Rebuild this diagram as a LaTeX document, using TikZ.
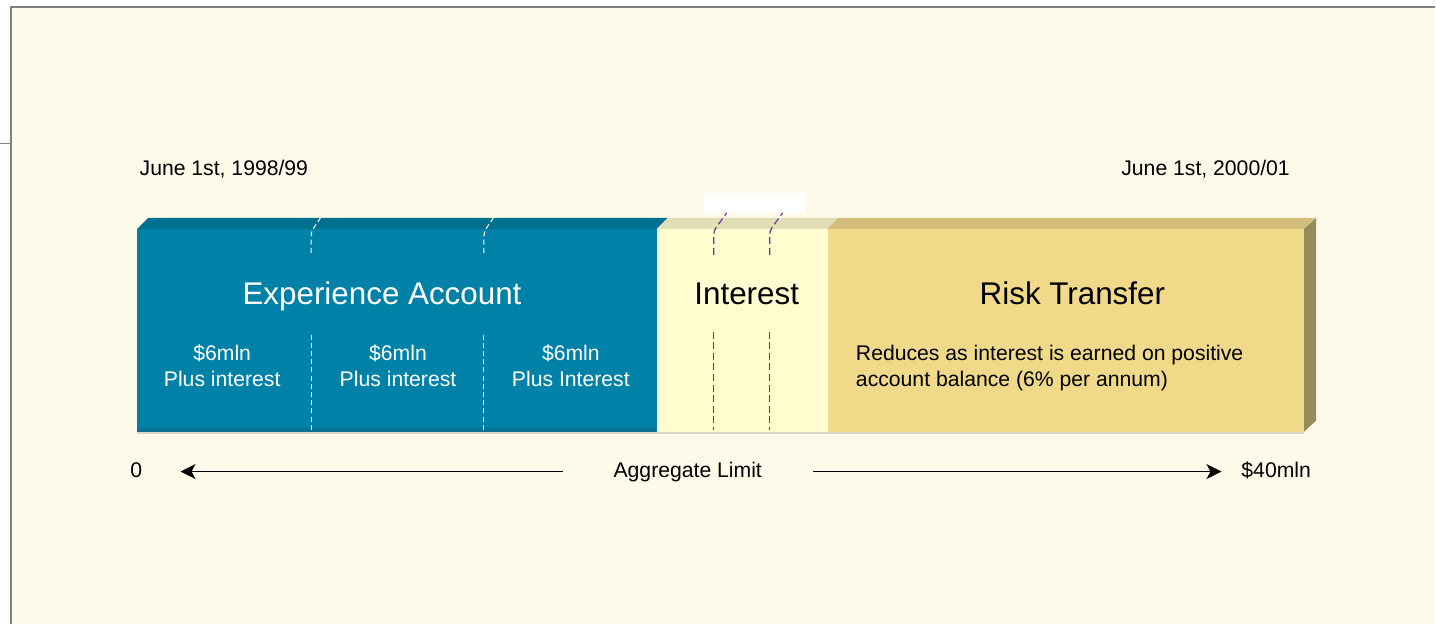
\documentclass[tikz,border=0pt]{standalone}
\usepackage{fontspec}
\setmainfont{Liberation Sans}
\usepackage{tikz}
\usetikzlibrary{positioning, arrows.meta}

\definecolor{paper}{HTML}{FEFAE9}
\definecolor{framegray}{HTML}{808080}
\definecolor{expFront}{HTML}{0081A7}
\definecolor{expTop}{HTML}{00708F}
\definecolor{expBase}{HTML}{0A7393}
\definecolor{intFront}{HTML}{FFFDD0}
\definecolor{intTop}{HTML}{E1DEB6}
\definecolor{riskFront}{HTML}{F1D98A}
\definecolor{riskTop}{HTML}{D4BD7A}
\definecolor{riskSide}{HTML}{958B5B}
\definecolor{cutPurple}{HTML}{7A2E96}
\definecolor{baseLine}{HTML}{D6D9C6}

\tikzset{
  face/.style={rectangle, inner sep=0pt, outer sep=0pt, minimum height=101.5pt},
  big/.style={inner sep=0pt, font=\fontsize{15.7}{18}\selectfont},
  small/.style={inner sep=0pt, align=center, font=\fontsize{10.6}{13}\selectfont},
  tick/.style={text height=8pt, text depth=2pt},
  cutWhite/.style={white, line width=0.5pt, dash pattern=on 2.5pt off 1.6pt, rounded corners=2pt},
  cutLine/.style={cutPurple, line width=0.6pt, dash pattern=on 3.5pt off 1.8pt, rounded corners=2pt},
  limit/.style={-{Stealth[length=7.5pt, width=7.5pt, inset=2pt]}, line width=0.6pt}
}

\begin{document}
\begin{tikzpicture}[x=0.5pt, y=-0.5pt]
    % Page: white margin, cream sheet and its frame
    \fill[white] (0,0) rectangle (1436,625);
    \fill[paper] (11,7) rectangle (1436,625);
    \draw[framegray, line width=1pt] (11,625) -- (11,7) -- (1436,7);
    \draw[framegray, line width=0.4pt] (0,144) -- (11,144);
    \useasboundingbox (0,0) rectangle (1436,625);
    % Front faces of the bar
    \node[face, anchor=north west, fill=expFront, minimum width=260pt] (exp) at (137,229) {};
    \node[face, fill=intFront, minimum width=85.5pt, right=0pt of exp] (int) {};
    \node[face, fill=riskFront, minimum width=238.5pt, right=0pt of int] (risk) {};
    % Top faces
    \fill[expTop] (exp.north west) -- ([shift={(11,-11)}]exp.north west) -- ([shift={(11,-11)}]exp.north east) -- (exp.north east) -- cycle;
    \fill[intTop] (int.north west) -- ([shift={(11,-11)}]int.north west) -- ([shift={(11,-11)}]int.north east) -- (int.north east) -- cycle;
    \fill[riskTop] (risk.north west) -- ([shift={(11,-11)}]risk.north west) -- ([shift={(11,-11)}]risk.north east) -- (risk.north east) -- cycle;
    % Side face
    \fill[riskSide] (risk.north east) -- ([shift={(12,-11)}]risk.north east) -- ([shift={(12,-11)}]risk.south east) -- (risk.south east) -- cycle;
    % Bottom edges
    \fill[expBase] ([yshift=2pt]exp.south west) rectangle (exp.south east);
    \draw[baseLine, line width=1pt] ([yshift=-0.5pt]exp.south west) -- ([yshift=-0.5pt]risk.south east);
    % Year cuts in the account
    \draw[cutWhite] (311,253) -- (311,232) -- (330,204);
    \draw[cutWhite] (311,335) -- (311,432);
    \draw[cutWhite] (484,253) -- (484,232) -- (503,204);
    \draw[cutWhite] (484,335) -- (484,432);
    % Cuts in the interest part
    \fill[white] (704,193) rectangle (806,213);
    \draw[cutLine] (714,255) -- (714,231) -- (727,213);
    \draw[cutLine] (714,332) -- (714,430);
    \draw[cutLine] (770,255) -- (770,231) -- (783,213);
    \draw[cutLine] (770,332) -- (770,430);
    % Labels on the bar
    \node[big, text=white] (expLabel) at (382,297) {Experience Account};
    \node[big] (intLabel) at (747,294) {Interest};
    \node[big] (riskLabel) at (1073,294) {Risk Transfer};
    \node[small, text=white] (yearOne) at (222,366) {\$6mln\\Plus interest};
    \node[small, text=white] (yearTwo) at (398,366) {\$6mln\\Plus interest};
    \node[small, text=white] (yearThree) at (571,366) {\$6mln\\Plus Interest};
    \node[small, align=left, anchor=west] (riskNote) at (856,368) {Reduces as interest is earned on positive\\account balance (6\% per annum)};
    % Dates
    \node[small, anchor=west] (startDate) at (139,169) {June 1st, 1998/99};
    \node[small, anchor=east] (endDate) at (1291,169) {June 1st, 2000/01};
    % Aggregate limit
    \node[small, tick] (zero) at (136,472) {0};
    \node[small, tick] (aggregate) at (688,472) {Aggregate Limit};
    \node[small, tick] (forty) at (1277,472) {\$40mln};
    % Arrows
    \draw[limit, shorten <=25pt, shorten >=19pt] (aggregate) -- (zero);
    \draw[limit, shorten <=25.5pt, shorten >=9.8pt] (aggregate) -- (forty);
\end{tikzpicture}
\end{document}
